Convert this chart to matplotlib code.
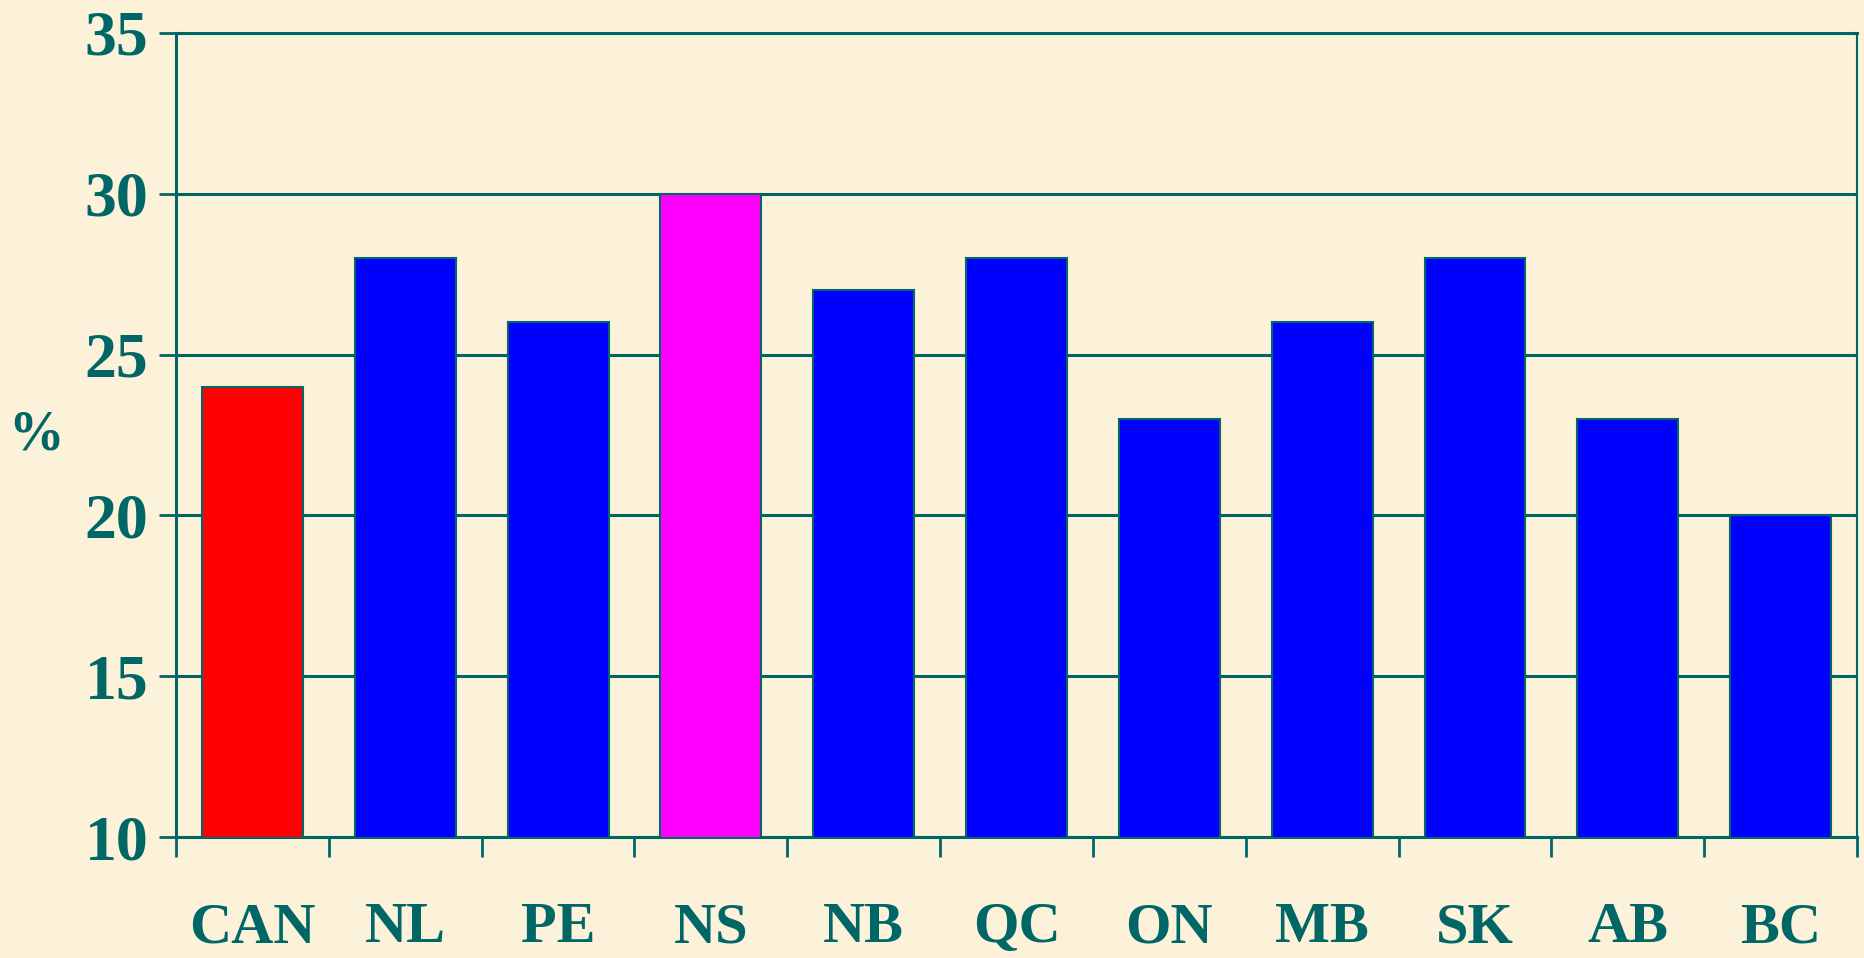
import matplotlib.pyplot as plt
import numpy as np

# Provinces and their percentages
provinces = ['CAN', 'NL', 'PE', 'NS', 'NB', 'QC', 'ON', 'MB', 'SK', 'AB', 'BC']
values = [24, 28, 26, 30, 27, 28, 23, 26, 28, 23, 20]
bar_colors = ['#FF0000', '#0000FF', '#0000FF', '#FF00FF', '#0000FF', '#0000FF',
              '#0000FF', '#0000FF', '#0000FF', '#0000FF', '#0000FF']
y_ticks = [10, 15, 20, 25, 30, 35]

teal = '#006666'
bg = '#FCF1D9'

plt.rcParams['font.family'] = ['Liberation Serif', 'DejaVu Serif']

fig = plt.figure(figsize=(18.65, 9.58), dpi=100, facecolor=bg)
ax = fig.add_axes([0.0944, 0.1263, 0.9013, 0.8393], facecolor=bg)

x = np.arange(len(provinces))
ax.bar(x, values, width=0.66, bottom=0, color=bar_colors, edgecolor=teal,
       linewidth=1.5, zorder=3)

ax.set_xlim(-0.5, len(provinces) - 0.5)
ax.set_ylim(10, 35)

# horizontal gridlines behind the bars
ax.set_yticks(y_ticks)
ax.set_yticklabels([str(v) for v in y_ticks], fontsize=46, fontweight='bold', color=teal)
ax.yaxis.grid(True, color=teal, linewidth=2.2, zorder=0)
ax.tick_params(axis='y', length=12, width=2, color=teal, pad=8)

# ticks between categories, labels at the centers
ax.set_xticks(np.arange(-0.5, len(provinces)), minor=False)
ax.set_xticklabels([])
ax.set_xticks(x, minor=True)
ax.set_xticklabels(provinces, minor=True, fontsize=42, fontweight='bold', color=teal)
ax.tick_params(axis='x', which='major', length=14.5, width=2, color=teal, direction='out')
ax.tick_params(axis='x', which='minor', length=0, pad=47)

for side in ['left', 'bottom', 'top']:
    ax.spines[side].set_color(teal)
    ax.spines[side].set_linewidth(2.2)
ax.spines['right'].set_color(teal)
ax.spines['right'].set_linewidth(1.5)

fig.text(0.0195, 0.545, '%', fontsize=40, fontweight='bold', color=teal,
         ha='center', va='center')

fig.savefig('out.png', dpi=100, facecolor=bg)
